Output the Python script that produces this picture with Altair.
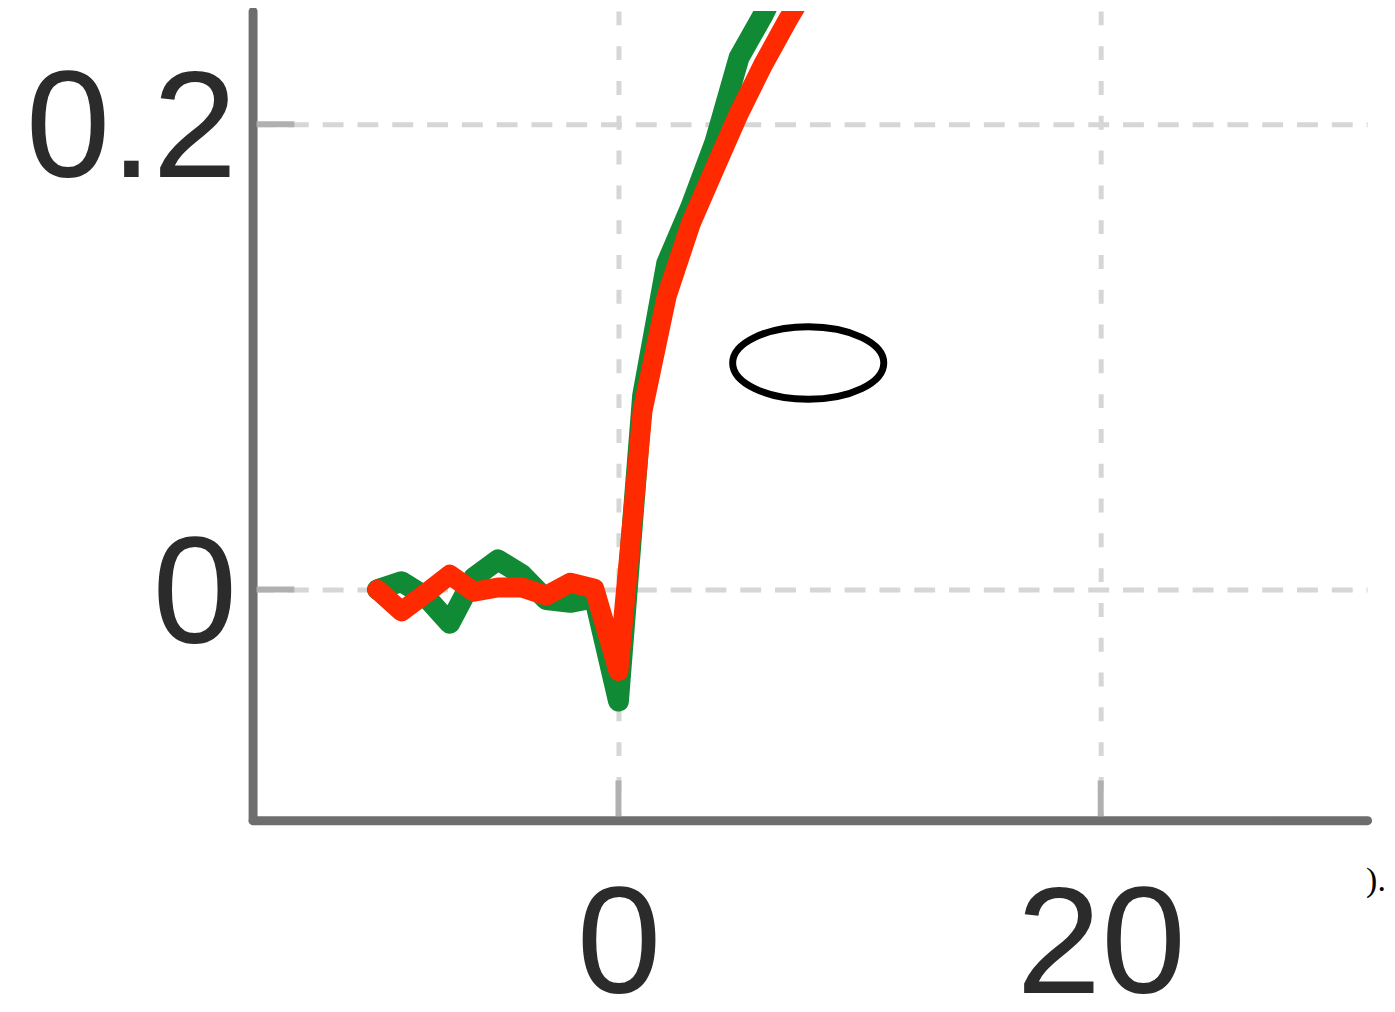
import altair as alt
import pandas as pd

# ---- data ----
x_vals = [-10, -9, -8, -7, -6, -5, -4, -3, -2, -1, 0, 1, 2, 3, 4, 5, 6, 7, 8, 9]
green_vals = [0.000, 0.0034, -0.0030, -0.0145, 0.0051, 0.0128, 0.0064, -0.0043, -0.0055, -0.0035,
              -0.0479, 0.0833, 0.1402, 0.1645, 0.1923, 0.2286, 0.2470, 0.268, 0.285, 0.300]
red_vals = [0.000, -0.0094, -0.0017, 0.0064, -0.0009, 0.0009, 0.0009, -0.0026, 0.0030, 0.0004,
            -0.0350, 0.0769, 0.1261, 0.1573, 0.1812, 0.2047, 0.2256, 0.2444, 0.262, 0.278]
x_ticks = [0, 20]
y_ticks = [0, 0.2]
ellipse_pos = {"x": [7.87], "y": [0.0974]}
trailing_text = [")."]

X_DOMAIN = [-15.175, 31.05]
Y_DOMAIN = [-0.0991, 0.2487]
W, H = 1121, 814

green_df = pd.DataFrame({"x": x_vals, "y": green_vals})
red_df = pd.DataFrame({"x": x_vals, "y": red_vals})

xs = alt.Scale(domain=X_DOMAIN, nice=False, zero=False)
ys = alt.Scale(domain=Y_DOMAIN, nice=False, zero=False)

axis_common = dict(
    labelFont="Liberation Sans", labelFontSize=153, labelColor="#2b2b2b", labelLimit=0,
    ticks=False, domainColor="#6e6e6e", domainWidth=9, domainCap="round",
    grid=True, gridColor="#d6d6d6", gridWidth=5, title=None,
    labelFlush=False, labelOverlap=False, labelBound=False,
)

x_axis = alt.Axis(values=x_ticks, labelPadding=52, gridDash=[14, 21], **axis_common)
y_axis = alt.Axis(values=y_ticks, format="~g", labelPadding=16, labelOffset=7,
                  gridDash=[21, 14], **axis_common)

base = alt.Chart(green_df).mark_line(
    color="#108a35", strokeWidth=21, strokeCap="round", strokeJoin="round", clip=True
).encode(
    x=alt.X("x:Q", scale=xs, axis=x_axis),
    y=alt.Y("y:Q", scale=ys, axis=y_axis),
)

red = alt.Chart(red_df).mark_line(
    color="#ff2a00", strokeWidth=20, strokeCap="round", strokeJoin="round", clip=True
).encode(x=alt.X("x:Q", scale=xs), y=alt.Y("y:Q", scale=ys))

ytick_rules = alt.Chart(pd.DataFrame({"v": y_ticks})).mark_rule(
    color="#b0b0b0", strokeWidth=6
).encode(y=alt.Y("v:Q", scale=ys), x=alt.value(4), x2=alt.value(42))

xtick_rules = alt.Chart(pd.DataFrame({"v": x_ticks})).mark_rule(
    color="#b0b0b0", strokeWidth=6
).encode(x=alt.X("v:Q", scale=xs), y=alt.value(H - 4), y2=alt.value(H - 40))

ellipse_path = ("M 1 0 C 1 0.2651 0.5523 0.48 0 0.48 C -0.5523 0.48 -1 0.2651 -1 0 "
                "C -1 -0.2651 -0.5523 -0.48 0 -0.48 C 0.5523 -0.48 1 -0.2651 1 0 Z")
ellipse = alt.Chart(pd.DataFrame(ellipse_pos)).mark_point(
    shape=ellipse_path, filled=False, stroke="black", strokeWidth=7, size=152 * 152, opacity=1
).encode(x=alt.X("x:Q", scale=xs), y=alt.Y("y:Q", scale=ys))

tail = alt.Chart(pd.DataFrame({"t": trailing_text})).mark_text(
    font="Liberation Serif", fontSize=34, align="left", baseline="alphabetic", color="black"
).encode(text="t:N", x=alt.value(W - 1), y=alt.value(885))

chart = alt.layer(base, red, ytick_rules, xtick_rules, ellipse, tail).properties(
    width=W, height=H,
    autosize=alt.AutoSizeParams(type="none"),
    padding={"left": 246, "top": 0, "right": 20, "bottom": 190},
).configure_view(stroke=None)

chart.save("out.html", embed_options={"renderer": "svg", "actions": False})
